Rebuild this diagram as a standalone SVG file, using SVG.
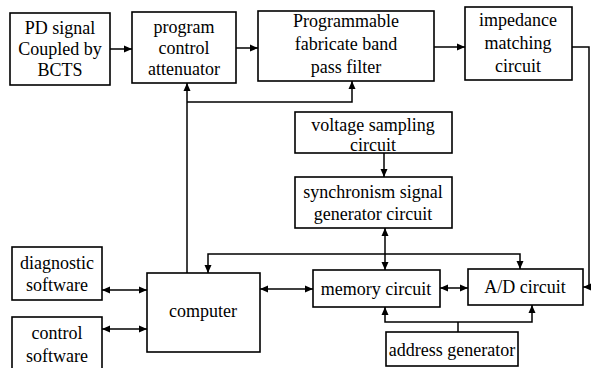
<svg xmlns="http://www.w3.org/2000/svg" width="592" height="368" viewBox="0 0 592 368">
<style>
.box{fill:#fff;stroke:#000;stroke-width:1.6}
.t{font-family:"Liberation Serif","Times New Roman",serif;font-size:18px;fill:#000;text-anchor:middle;dominant-baseline:central}
.c{fill:none;stroke:#000;stroke-width:1.5}
.a{marker-end:url(#ah)}
.b{marker-start:url(#ah);marker-end:url(#ah)}
</style>
<defs>
<marker id="ah" markerUnits="userSpaceOnUse" markerWidth="9" markerHeight="8" refX="8" refY="4" orient="auto-start-reverse" viewBox="0 0 9 8">
<path d="M0,0.5 L8,4 L0,7.5 Z" fill="#000"/>
</marker>
</defs>
<g id="connectors">
<line class="c a" x1="110" y1="49" x2="132" y2="49"/>
<line class="c a" x1="236" y1="48" x2="258" y2="48"/>
<line class="c a" x1="434" y1="47" x2="465" y2="47"/>
<path class="c a" d="M572,47 H589 V287 H583"/>
<line class="c a" x1="187" y1="273" x2="187" y2="83"/>
<path class="c a" d="M187,102 H352 V81"/>
<line class="c a" x1="384" y1="153" x2="384" y2="177"/>
<line class="c b" x1="385" y1="228" x2="385" y2="270"/>
<path class="c b" d="M208,273 V254 H520 V269"/>
<line class="c b" x1="102" y1="290" x2="147" y2="290"/>
<line class="c b" x1="102" y1="329" x2="147" y2="329"/>
<line class="c b" x1="260" y1="289" x2="313" y2="289"/>
<line class="c b" x1="440" y1="288" x2="468" y2="288"/>
<path class="c b" d="M385,307 V322 H532 V305"/>
<line class="c" x1="458" y1="332" x2="458" y2="322"/>
</g>
<g id="pd"><rect class="box" x="10" y="13" width="100" height="72"/>
<text class="t" x="60" y="28">PD signal</text><text class="t" x="60" y="49">Coupled by</text><text class="t" x="60" y="70">BCTS</text></g>
<g id="attenuator"><rect class="box" x="132" y="12" width="104" height="71"/>
<text class="t" x="184" y="27">program</text><text class="t" x="184" y="48">control</text><text class="t" x="184" y="69">attenuator</text></g>
<g id="filter"><rect class="box" x="258" y="11" width="176" height="70"/>
<text class="t" x="346" y="21">Programmable</text><text class="t" x="346" y="44">fabricate band</text><text class="t" x="346" y="67">pass filter</text></g>
<g id="impedance"><rect class="box" x="465" y="7" width="107" height="73"/>
<text class="t" x="518" y="20">impedance</text><text class="t" x="518" y="43">matching</text><text class="t" x="518" y="66">circuit</text></g>
<g id="voltage"><rect class="box" x="295" y="112" width="157" height="41"/>
<text class="t" x="373" y="125">voltage sampling</text><text class="t" x="373" y="145">circuit</text></g>
<g id="sync"><rect class="box" x="295" y="177" width="157" height="51"/>
<text class="t" x="373" y="192">synchronism signal</text><text class="t" x="373" y="214">generator circuit</text></g>
<g id="diagnostic"><rect class="box" x="12" y="247" width="90" height="53"/>
<text class="t" x="57" y="263">diagnostic</text><text class="t" x="57" y="285">software</text></g>
<g id="control"><rect class="box" x="12" y="317" width="90" height="55"/>
<text class="t" x="57" y="333">control</text><text class="t" x="57" y="356">software</text></g>
<g id="computer"><rect class="box" x="147" y="273" width="113" height="79"/>
<text class="t" x="203" y="311">computer</text></g>
<g id="memory"><rect class="box" x="313" y="270" width="127" height="37"/>
<text class="t" x="376" y="289">memory circuit</text></g>
<g id="ad"><rect class="box" x="468" y="269" width="115" height="36"/>
<text class="t" x="525" y="287">A/D circuit</text></g>
<g id="address"><rect class="box" x="386" y="332" width="132" height="34"/>
<text class="t" x="452" y="350">address generator</text></g>
</svg>
